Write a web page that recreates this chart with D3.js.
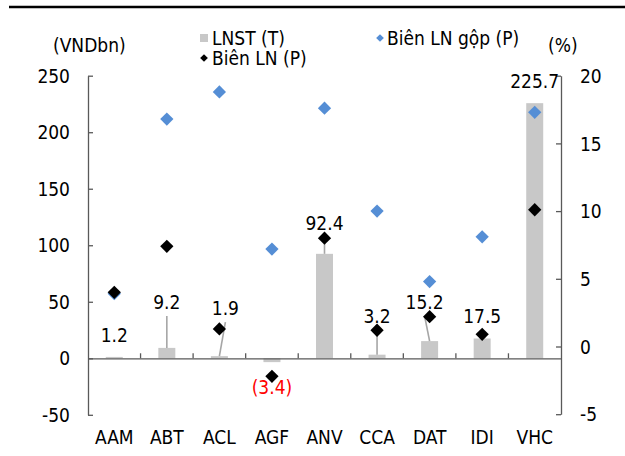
<!DOCTYPE html>
<html>
<head>
<meta charset="utf-8">
<script src="https://cdn.jsdelivr.net/npm/d3@7"></script>
<style>
  html, body { margin: 0; padding: 0; background: #fff; }
  svg { display: block; }
  text { font-family: "DejaVu Sans Condensed", "DejaVu Sans", sans-serif; font-stretch: condensed; font-size: 19px; fill: #000; }
</style>
</head>
<body>
<svg id="chart" width="625" height="456"></svg>
<script>
// ---- Data ----
const categories = ["AAM", "ABT", "ACL", "AGF", "ANV", "CCA", "DAT", "IDI", "VHC"];
const netProfit = [1.2, 9.2, 1.9, -3.4, 92.4, 3.2, 15.2, 17.5, 225.7];         // LNST (T), VNDbn
const grossMargin = [3.9, 16.8, 18.8, 7.2, 17.6, 10.0, 4.8, 8.1, 17.3];        // Biên LN gộp (P), %
const netMargin = [4.0, 7.4, 1.3, -2.2, 8.0, 1.2, 2.2, 0.9, 10.1];             // Biên LN (P), %
const leftTicks = [-50, 0, 50, 100, 150, 200, 250];
const rightTicks = [-5, 0, 5, 10, 15, 20];
const seriesNames = ["LNST (T)", "Biên LN (P)", "Biên LN gộp (P)"];
// label layout nudges (px): [dx, dy from default, leader line?]
const labelLayout = [[0, 0, false], [0, -24, true], [6, -26, true], [0, 0, false], [0, -8, true],
                     [0, -16, true], [-5, -17, true], [0, 0, false], [0, 0, false]];

// ---- Layout ----
const svg = d3.select("#chart");
const axisColor = "#595959";
const barColor = "#c8c8c8";
const blue = "#558ed5";

const x = d3.scaleBand().domain(categories).range([88, 561]).padding(0);
const yL = d3.scaleLinear().domain([-50, 250]).range([414.8, 75.7]);
const yR = d3.scaleLinear().domain([-5, 20]).range([414.2, 75.7]);
const barW = 17;
const cx = c => x(c) + x.bandwidth() / 2;
const tickFmt = v => String(v);

// top rule
svg.append("line").attr("x1", 9).attr("x2", 625).attr("y1", 7).attr("y2", 7)
  .attr("stroke", "#000").attr("stroke-width", 2.5);

// bars
svg.append("g").selectAll("rect").data(categories).join("rect")
  .attr("x", (c) => cx(c) - barW / 2)
  .attr("y", (c, i) => yL(Math.max(0, netProfit[i])))
  .attr("width", barW)
  .attr("height", (c, i) => Math.abs(yL(netProfit[i]) - yL(0)))
  .attr("fill", barColor);

// axes
const leftAxis = d3.axisLeft(yL).tickValues(leftTicks).tickFormat(tickFmt).tickSizeInner(-5).tickSizeOuter(0).tickPadding(18);
const gL = svg.append("g").attr("transform", "translate(88,0)").call(leftAxis);
const rightAxis = d3.axisRight(yR).tickValues(rightTicks).tickFormat(tickFmt).tickSizeInner(-5).tickSizeOuter(0).tickPadding(19);
const gR = svg.append("g").attr("transform", "translate(561,0)").call(rightAxis);
[gL, gR].forEach(g => {
  g.select(".domain").attr("stroke", axisColor).attr("stroke-width", 1.3);
  g.selectAll(".tick line").attr("stroke", axisColor).attr("stroke-width", 1.3);
  g.selectAll(".tick text").style("font-size", "19px").attr("fill", "#000");
});
gL.selectAll(".tick text").attr("dy", "0.35em");
gR.selectAll(".tick text").attr("dy", "0.35em");

// x axis at zero
const xAxis = d3.axisBottom(x).tickSize(0).tickPadding(72);
const gX = svg.append("g").attr("transform", `translate(0,${yL(0)})`).call(xAxis);
gX.select(".domain").attr("stroke", axisColor).attr("stroke-width", 1.3);
gX.selectAll(".tick text").style("font-size", "19px").attr("fill", "#000");
// inner boundary ticks
svg.append("g").selectAll("line").data(categories.slice(1)).join("line")
  .attr("x1", c => x(c)).attr("x2", c => x(c))
  .attr("y1", yL(0)).attr("y2", yL(0) - 5)
  .attr("stroke", axisColor).attr("stroke-width", 1.3);

// data labels
const labelPos = categories.map((c, i) => {
  const v = netProfit[i];
  const [dx, dy] = labelLayout[i];
  const px = cx(c) + dx;
  const py = v >= 0 ? yL(v) - 22 + dy : yL(v) + 25 + dy;
  return [px, py];
});
// leader lines
svg.append("g").selectAll("line").data(categories.filter((c, i) => labelLayout[i][2])).join("line")
  .attr("x1", c => labelPos[categories.indexOf(c)][0])
  .attr("y1", c => labelPos[categories.indexOf(c)][1] + 14)
  .attr("x2", c => cx(c))
  .attr("y2", c => yL(netProfit[categories.indexOf(c)]))
  .attr("stroke", "#a6a6a6").attr("stroke-width", 1.6);

const fmt = v => v < 0 ? `(${Math.abs(v).toFixed(1)})` : v.toFixed(1);
svg.append("g").selectAll("text").data(categories).join("text")
  .attr("x", (c, i) => labelPos[i][0])
  .attr("y", (c, i) => labelPos[i][1])
  .attr("dy", "0.35em")
  .attr("text-anchor", "middle")
  .style("fill", (c, i) => netProfit[i] < 0 ? "#ff0000" : "#000")
  .text((c, i) => fmt(netProfit[i]));

// diamonds
const diamond = d3.symbol().type(d3.symbolSquare).size(88);
svg.append("g").selectAll("path").data(categories).join("path")
  .attr("d", diamond)
  .attr("transform", (c, i) => `translate(${cx(c)},${yR(grossMargin[i])}) rotate(45)`)
  .attr("fill", blue);
svg.append("g").selectAll("path").data(categories).join("path")
  .attr("d", diamond)
  .attr("transform", (c, i) => `translate(${cx(c)},${yR(netMargin[i])}) rotate(45)`)
  .attr("fill", "#000");

// axis titles
svg.append("text").attr("x", 53).attr("y", 45).attr("dy", "0.35em").text("(VNDbn)");
svg.append("text").attr("x", 548).attr("y", 45).attr("dy", "0.35em").text("(%)");

// legend
const small = d3.symbol().type(d3.symbolSquare).size(30);
svg.append("rect").attr("x", 200).attr("y", 34).attr("width", 8).attr("height", 8).attr("fill", barColor);
svg.append("text").attr("x", 212).attr("y", 38).attr("dy", "0.35em").text(seriesNames[0]);
svg.append("path").attr("d", small).attr("transform", "translate(204,58) rotate(45)").attr("fill", "#000");
svg.append("text").attr("x", 212).attr("y", 58).attr("dy", "0.35em").text(seriesNames[1]);
svg.append("path").attr("d", small).attr("transform", "translate(380,38) rotate(45)").attr("fill", blue);
svg.append("text").attr("x", 387).attr("y", 38).attr("dy", "0.35em").text(seriesNames[2]);
</script>
</body>
</html>
